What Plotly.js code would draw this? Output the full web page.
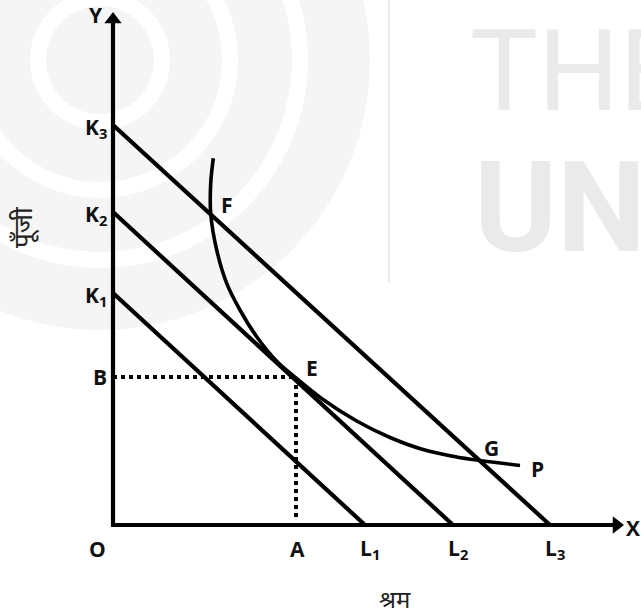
<!DOCTYPE html>
<html>
<head>
<meta charset="utf-8">
<script src="https://cdn.plot.ly/plotly-3.0.1.min.js"></script>
<style>html,body{margin:0;padding:0;background:#fff;}#chart{width:641px;height:615px;}</style>
</head>
<body>
<div id="chart"></div>
<script>
// Intercepts of the three isocost lines (capital on Y, labour on X)
const isocostNames = ["K1L1", "K2L2", "K3L3"];
const capitalIntercepts = [23.2, 31.3, 40.0];
const labourIntercepts = [25.2, 34.0, 43.7];

// Isoquant curve P
const isoquantX = [10.03, 9.77, 9.77, 10.37, 11.37, 12.7, 14.37, 16.4, 18.3, 21.0, 24.37, 27.7, 31.0, 34.37, 36.7, 40.7];
const isoquantY = [36.67, 34.17, 31.17, 27.5, 24.17, 21.5, 18.83, 16.35, 14.7, 12.55, 10.4, 8.75, 7.55, 6.8, 6.45, 5.95];

// Equilibrium point E = (A, B)
const pointA = 18.3;
const pointB = 14.8;

// Point labels
const pointLabels = ["E", "F", "G", "P"];
const pointLabelX = [19.9, 11.4, 37.8, 42.4];
const pointLabelY = [15.7, 32.0, 7.7, 5.6];

// Axis labels
const yTickLabels = ["K<sub>1</sub>", "K<sub>2</sub>", "K<sub>3</sub>", "B"];
const yTickValues = [capitalIntercepts[0], capitalIntercepts[1], capitalIntercepts[2], pointB];
const xTickLabels = ["O", "A", "L<sub>1</sub>", "L<sub>2</sub>", "L<sub>3</sub>"];
const xTickValues = [0, pointA, labourIntercepts[0], labourIntercepts[1], labourIntercepts[2]];
const xAxisTitle = "श्रम";
const yAxisTitle = "पूँजी";

const xAxisEnd = 51.0;
const yAxisEnd = 51.2;

const black = "#000";
const traces = [];

// axes
traces.push({x: [0, xAxisEnd - 0.8], y: [0, 0], mode: "lines", line: {color: black, width: 4.2}, hoverinfo: "skip"});
traces.push({x: [0, 0], y: [-0.2, yAxisEnd - 0.8], mode: "lines", line: {color: black, width: 4.2}, hoverinfo: "skip"});
traces.push({x: [xAxisEnd - 0.65], y: [0], mode: "markers", marker: {symbol: "triangle-right", size: 15, color: black}, hoverinfo: "skip"});
traces.push({x: [0], y: [yAxisEnd - 0.65], mode: "markers", marker: {symbol: "triangle-up", size: 15, color: black}, hoverinfo: "skip"});

// isocost lines
for (let i = 0; i < isocostNames.length; i++) {
  traces.push({x: [0, labourIntercepts[i]], y: [capitalIntercepts[i], 0], mode: "lines", name: isocostNames[i], line: {color: black, width: 4.2}, hoverinfo: "skip"});
}

// isoquant
traces.push({x: isoquantX, y: isoquantY, mode: "lines", line: {color: black, width: 3.6, shape: "spline", smoothing: 0.9}, hoverinfo: "skip"});

// dotted lines
traces.push({x: [0, pointA], y: [pointB, pointB], mode: "lines", line: {color: black, width: 4, dash: "dot"}, hoverinfo: "skip"});
traces.push({x: [pointA, pointA], y: [pointB, 0.4], mode: "lines", line: {color: black, width: 4, dash: "dot"}, hoverinfo: "skip"});

const labelFont = {family: "Open Sans, Liberation Sans, sans-serif", size: 21, color: "#111", weight: 700};
const annotations = [];
for (let i = 0; i < yTickLabels.length; i++) {
  annotations.push({x: -0.4, y: yTickValues[i] - (i < 3 ? 0.3 : 0), text: yTickLabels[i], showarrow: false, xanchor: "right", yanchor: "middle", font: labelFont});
}
for (let i = 0; i < xTickLabels.length; i++) {
  annotations.push({x: xTickValues[i] + (i === 0 ? -1.6 : (i === 1 ? 0.1 : 0.5)), y: -2.4, text: xTickLabels[i], showarrow: false, xanchor: "center", yanchor: "middle", font: labelFont});
}
for (let i = 0; i < pointLabels.length; i++) {
  annotations.push({x: pointLabelX[i], y: pointLabelY[i], text: pointLabels[i], showarrow: false, xanchor: "center", yanchor: "middle", font: labelFont});
}
annotations.push({x: -1.7, y: 51.0, text: "Y", showarrow: false, xanchor: "center", yanchor: "middle", font: labelFont});
annotations.push({x: 52.0, y: -0.3, text: "X", showarrow: false, xanchor: "center", yanchor: "middle", font: labelFont});
// axis titles
annotations.push({x: 28.2, y: -7.3, text: xAxisTitle, showarrow: false, font: {family: "Noto Sans, sans-serif", size: 24, color: "#222"}});
annotations.push({x: -9.1, y: 29.8, text: yAxisTitle, textangle: -90, showarrow: false, font: {family: "Noto Sans, sans-serif", size: 26, color: "#222"}});

// watermark text
annotations.push({x: 35.5, y: 52.3, text: "THE", showarrow: false, xanchor: "left", yanchor: "top", font: {family: "Roboto, sans-serif", size: 114, color: "#eaeaea"}});
annotations.push({x: 35.9, y: 39.3, text: "UN", showarrow: false, xanchor: "left", yanchor: "top", font: {family: "Roboto, sans-serif", size: 126, color: "#eaeaea", weight: 700}});

const px = v => (v - 113) / 10;
const py = v => (525 - v) / 10;
function ring(cx, cy, r) {
  return {x0: px(cx - r), x1: px(cx + r), y0: py(cy + r), y1: py(cy - r)};
}
const shapes = [
  Object.assign({type: "circle", xref: "x", yref: "y", fillcolor: "#f5f5f5", line: {width: 0}, layer: "below"}, ring(100, 60, 270)),
  Object.assign({type: "circle", xref: "x", yref: "y", fillcolor: "rgba(0,0,0,0)", line: {color: "#fff", width: 16}, layer: "below"}, ring(100, 60, 200)),
  Object.assign({type: "circle", xref: "x", yref: "y", fillcolor: "rgba(0,0,0,0)", line: {color: "#fff", width: 16}, layer: "below"}, ring(100, 60, 130)),
  Object.assign({type: "circle", xref: "x", yref: "y", fillcolor: "rgba(0,0,0,0)", line: {color: "#fff", width: 16}, layer: "below"}, ring(100, 60, 62)),
  {type: "line", xref: "x", yref: "y", x0: px(389), x1: px(389), y0: py(282), y1: py(0), line: {color: "#e2e2e2", width: 1.5}, layer: "below"}
];

const layout = {
  width: 641, height: 615,
  margin: {l: 0, r: 0, t: 0, b: 0},
  paper_bgcolor: "#fff", plot_bgcolor: "rgba(0,0,0,0)",
  showlegend: false,
  xaxis: {range: [-11.3, 52.8], visible: false, fixedrange: true},
  yaxis: {range: [-9.0, 52.5], visible: false, fixedrange: true},
  annotations: annotations,
  shapes: shapes
};

Plotly.newPlot("chart", traces, layout, {displayModeBar: false, staticPlot: true});
</script>
</body>
</html>
